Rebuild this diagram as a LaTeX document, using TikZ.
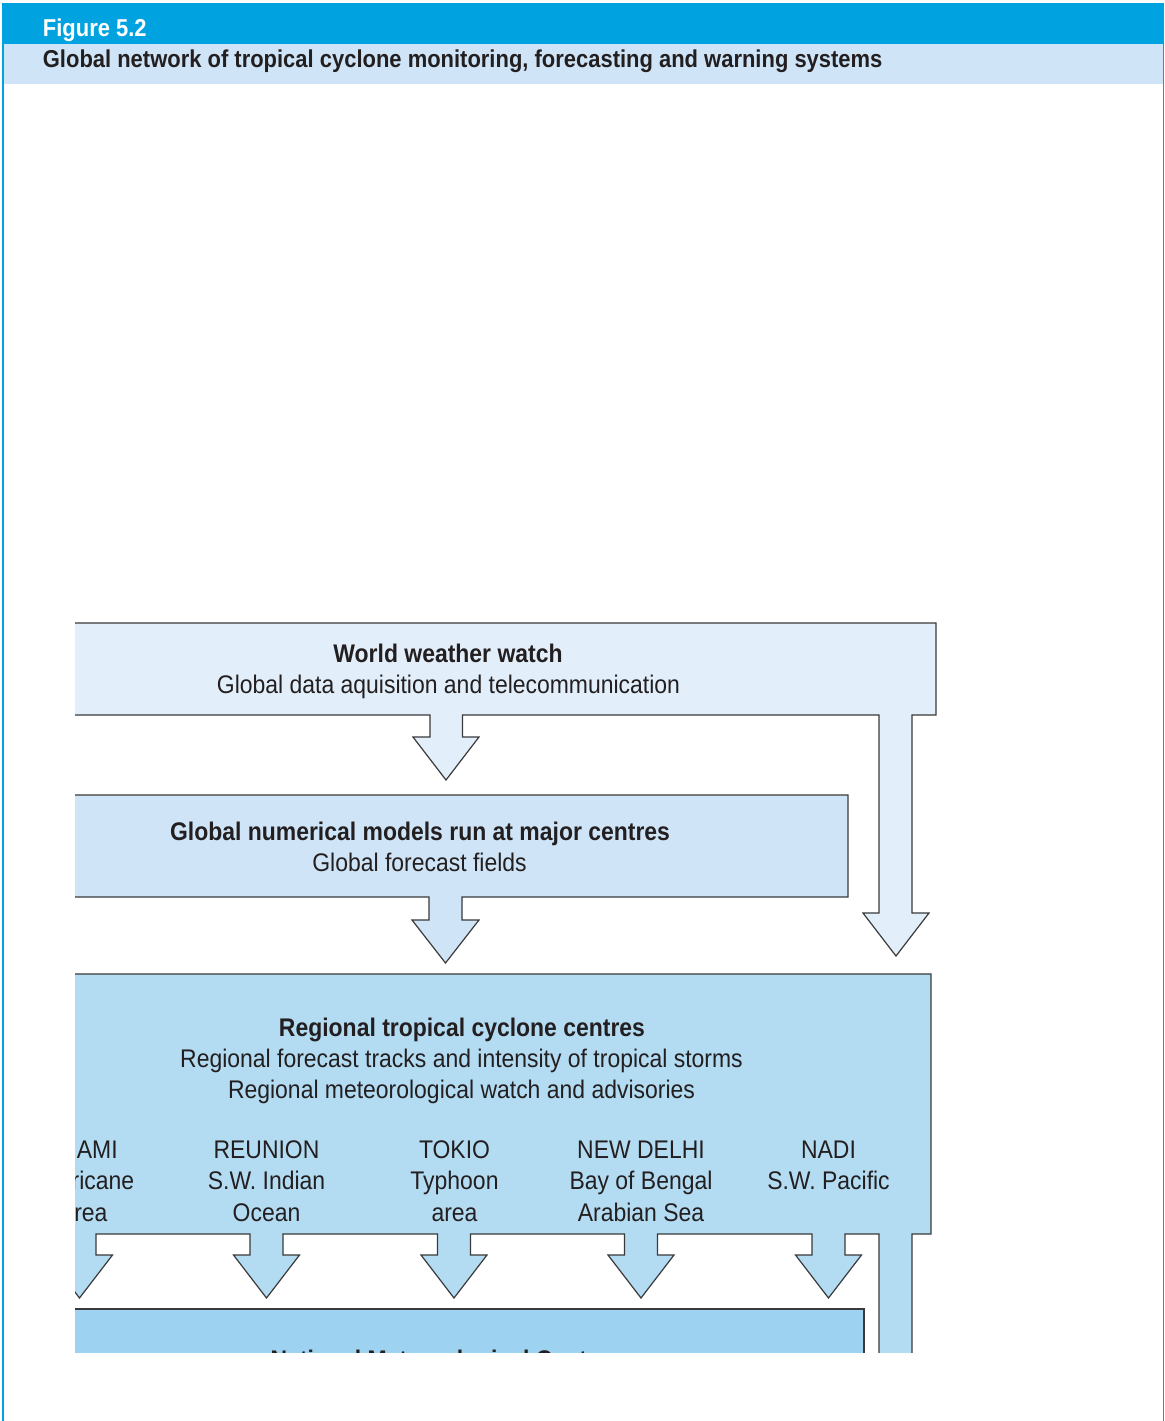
\documentclass[tikz,border=0pt]{standalone}
\usepackage{fontspec}
\setmainfont{Liberation Sans}[FakeStretch=0.9]
\definecolor{barblue}{HTML}{00A3E0}
\definecolor{bandblue}{HTML}{CFE5F7}
\definecolor{fillA}{HTML}{E2EFFA}
\definecolor{fillB}{HTML}{CFE5F7}
\definecolor{fillC}{HTML}{B3DCF3}
\definecolor{fillD}{HTML}{9DD3F0}
\definecolor{ink}{HTML}{231F20}
\definecolor{edge}{HTML}{3A3A3A}
\begin{document}
\begin{tikzpicture}[x=0.5pt,y=-0.5pt,
  blockshape/.style={draw=edge,line width=0.6pt,line join=miter},
  txt/.style={inner sep=0pt,anchor=base,text=ink,font=\fontsize{12.75}{15}\selectfont},
  btxt/.style={txt,font=\fontsize{12.75}{15}\selectfont\bfseries},
  ttl/.style={inner sep=0pt,anchor=base west,font=\fontsize{12.2}{15}\selectfont\bfseries}]
\useasboundingbox (0,0) rectangle (1165,1421);
\fill[white] (0,0) rectangle (1165,1421);

% heading bars
\fill[barblue] (1.7,3.3) rectangle (1164.3,43.5);
\fill[bandblue] (2,43.5) rectangle (1164.3,83.5);
\node[ttl,text=white] (fig) at (42.5,36) {Figure 5.2};
\node[ttl,text=ink] (title) at (42.5,67) {Global network of tropical cyclone monitoring, forecasting and warning systems};

% frame sides
\draw[barblue,line width=1pt] (2.7,3.3) -- (2.7,1421);
\draw[barblue,line width=0.7pt] (1163.6,3.3) -- (1163.6,1421);

\begin{scope}
\clip (75,600) rectangle (1160,1352);

% World weather watch, with its two outlets
\filldraw[blockshape,fill=fillA]
  (-40,623) -- (936,623) -- (936,715) -- (912,715) -- (912,913) -- (929,913)
  -- (896,956) -- (863,913) -- (879,913) -- (879,715)
  -- (462.5,715) -- (462.5,737) -- (479,737) -- (446,780) -- (413,737)
  -- (430,737) -- (430,715) -- (-40,715) -- cycle;

% Global numerical models
\filldraw[blockshape,fill=fillB]
  (-40,795) -- (848,795) -- (848,897) -- (462,897) -- (462,920) -- (479,920)
  -- (445.5,963) -- (412,920) -- (429,920) -- (429,897) -- (-40,897) -- cycle;

% National Meteorological Centres
\filldraw[blockshape,fill=fillD,line width=0.8pt] (-40,1309) rectangle (864,1420);

% Regional tropical cyclone centres, with one outlet per centre
\filldraw[blockshape,fill=fillC]
  (-40,974) -- (931,974) -- (931,1234) -- (912,1234) -- (912,1420)
  -- (879,1420) -- (879,1234)
  -- (845,1234) -- (845,1255) -- (861.5,1255) -- (828.5,1298) -- (795.5,1255) -- (812,1255) -- (812,1234)
  -- (657.5,1234) -- (657.5,1255) -- (674,1255) -- (641,1298) -- (608,1255) -- (624.5,1255) -- (624.5,1234)
  -- (470.5,1234) -- (470.5,1255) -- (487,1255) -- (454,1298) -- (421,1255) -- (437.5,1255) -- (437.5,1234)
  -- (283,1234) -- (283,1255) -- (299.5,1255) -- (266.5,1298) -- (233.5,1255) -- (250,1255) -- (250,1234)
  -- (96,1234) -- (96,1255) -- (112.5,1255) -- (79.5,1298) -- (46.5,1255) -- (63,1255) -- (63,1234)
  -- (-40,1234) -- cycle;

% texts
\node[btxt] (www) at (448,662) {World weather watch};
\node[txt] (wwwb) at (448.5,693) {Global data aquisition and telecommunication};

\node[btxt] (gnm) at (420,840) {Global numerical models run at major centres};
\node[txt] (gnmb) at (419.5,871) {Global forecast fields};

\node[btxt] (rtc) at (462,1036) {Regional tropical cyclone centres};
\node[txt] (rtcb) at (461.5,1067) {Regional forecast tracks and intensity of tropical storms};
\node[txt] (rtcc) at (461.5,1098) {Regional meteorological watch and advisories};

\node[txt] (mia1) at (84.5,1158) {MIAMI};
\node[txt] (mia2) at (84.5,1189.5) {Hurricane};
\node[txt] (mia3) at (84.5,1221) {area};

\node[txt] (reu1) at (266.5,1158) {REUNION};
\node[txt] (reu2) at (266.5,1189.5) {S.W. Indian};
\node[txt] (reu3) at (266.5,1221) {Ocean};

\node[txt] (tok1) at (454.5,1158) {TOKIO};
\node[txt] (tok2) at (454.5,1189.5) {Typhoon};
\node[txt] (tok3) at (454.5,1221) {area};

\node[txt] (nd1) at (641,1158) {NEW DELHI};
\node[txt] (nd2) at (641,1189.5) {Bay of Bengal};
\node[txt] (nd3) at (641,1221) {Arabian Sea};

\node[txt] (nadi1) at (828.5,1158) {NADI};
\node[txt] (nadi2) at (828.5,1189.5) {S.W. Pacific};

\node[btxt] (nmc) at (446,1368) {National Meteorological Centres};
\end{scope}
\end{tikzpicture}
\end{document}
